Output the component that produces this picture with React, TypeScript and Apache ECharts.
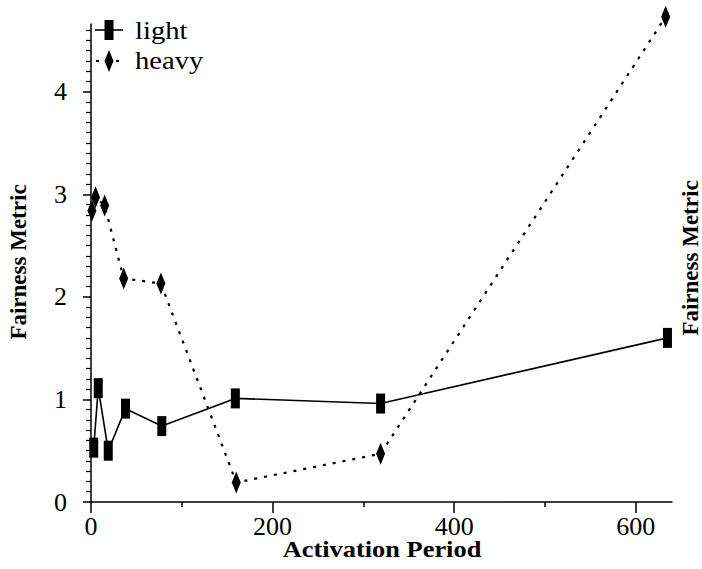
import React, { useEffect, useRef } from "react";
import * as echarts from "echarts";

const lightX = [3, 8, 19, 38, 78, 159, 319, 635];
const lightY = [0.53, 1.11, 0.5, 0.91, 0.74, 1.01, 0.96, 1.6];
const heavyX = [1, 5, 15, 36, 77, 160, 319, 633];
const heavyY = [2.84, 2.97, 2.89, 2.18, 2.13, 0.19, 0.47, 4.73];

const seriesNames = ["light", "heavy"];
const xMajorTicks = [0, 200, 400, 600];
const xMinorTicks = [100, 300, 500];
const yMajorTicks = [0, 1, 2, 3, 4];

const FONT = "'Liberation Serif', 'Times New Roman', serif";

export default function App() {
  const ref = useRef<HTMLDivElement>(null);
  useEffect(() => {
    if (!ref.current) return;
    const chart = echarts.init(ref.current, null, { renderer: "svg" });
    const yMinorTicks: number[] = [];
    for (let i = 1; i <= 46; i++) {
      if (i % 10 !== 0) yMinorTicks.push(i / 10);
    }
    const lightData = lightX.map((x, i) => [x, lightY[i]]);
    const heavyData = heavyX.map((x, i) => [x, heavyY[i]]);
    const axisLine = { show: true, lineStyle: { color: "#000", width: 1.5 } };
    const labelFont = { fontSize: 26, fontFamily: FONT, color: "#000" };
    chart.setOption({
      animation: false,
      backgroundColor: "#fff",
      grid: { left: 91, right: 30, top: 24, bottom: 67 },
      xAxis: [
        {
          type: "value",
          min: 0,
          max: 640,
          position: "bottom",
          axisLine,
          splitLine: { show: false },
          axisTick: { show: true, length: 11, customValues: xMajorTicks, lineStyle: { color: "#000", width: 1.5 } },
          axisLabel: { customValues: xMajorTicks, ...labelFont, margin: 11 },
        },
        {
          type: "value",
          min: 0,
          max: 640,
          position: "bottom",
          axisLine: { show: false },
          splitLine: { show: false },
          axisTick: { show: true, length: 5, customValues: xMinorTicks, lineStyle: { color: "#000", width: 1.5 } },
          axisLabel: { show: false },
        },
      ],
      yAxis: [
        {
          type: "value",
          min: 0,
          max: 4.66,
          position: "left",
          axisLine,
          splitLine: { show: false },
          axisTick: { show: true, length: 8, customValues: yMajorTicks, lineStyle: { color: "#000", width: 1.5 } },
          axisLabel: { customValues: yMajorTicks, ...labelFont, margin: 24 },
        },
        {
          type: "value",
          min: 0,
          max: 4.66,
          position: "left",
          axisLine: { show: false },
          splitLine: { show: false },
          axisTick: { show: true, length: 5, customValues: yMinorTicks, lineStyle: { color: "#000", width: 1.2 } },
          axisLabel: { show: false },
        },
      ],
      series: [
        {
          name: seriesNames[0],
          type: "line",
          data: lightData,
          clip: false,
          symbol: "rect",
          symbolSize: [9, 20],
          itemStyle: { color: "#000" },
          lineStyle: { color: "#000", width: 1.6, type: "solid" },
        },
        {
          name: seriesNames[1],
          type: "line",
          data: heavyData,
          clip: false,
          symbol: "diamond",
          symbolSize: [9, 22],
          itemStyle: { color: "#000" },
          lineStyle: { color: "#000", width: 2.2, type: [3, 7] },
        },
      ],
      graphic: [
        // legend: light
        { type: "line", shape: { x1: 95, y1: 30, x2: 123, y2: 30 }, style: { stroke: "#000", lineWidth: 1.6 } },
        { type: "rect", shape: { x: 104.5, y: 20, width: 9, height: 20 }, style: { fill: "#000" } },
        {
          type: "text",
          x: 135,
          y: 30,
          scaleX: 1.1,
          style: { text: seriesNames[0], font: `26px ${FONT}`, fill: "#000", verticalAlign: "middle" },
        },
        // legend: heavy
        {
          type: "line",
          shape: { x1: 95, y1: 61, x2: 123, y2: 61 },
          style: { stroke: "#000", lineWidth: 2.2, lineDash: [3, 7], lineDashOffset: -1 },
        },
        {
          type: "polygon",
          shape: { points: [[109, 50], [113.5, 61], [109, 72], [104.5, 61]] },
          style: { fill: "#000" },
        },
        {
          type: "text",
          x: 135,
          y: 60,
          scaleX: 1.1,
          style: { text: seriesNames[1], font: `26px ${FONT}`, fill: "#000", verticalAlign: "middle" },
        },
        {
          type: "text",
          x: 382,
          y: 549,
          scaleX: 1.1,
          style: {
            text: "Activation Period",
            font: `bold 24px ${FONT}`,
            fill: "#000",
            align: "center",
            verticalAlign: "middle",
          },
        },
        {
          type: "text",
          x: 18,
          y: 262,
          rotation: Math.PI / 2,
          style: {
            text: "Fairness Metric",
            font: `bold 23px ${FONT}`,
            fill: "#000",
            align: "center",
            verticalAlign: "middle",
          },
        },
        {
          type: "text",
          x: 690,
          y: 258,
          rotation: Math.PI / 2,
          style: {
            text: "Fairness Metric",
            font: `bold 23px ${FONT}`,
            fill: "#000",
            align: "center",
            verticalAlign: "middle",
          },
        },
      ],
    });
    return () => chart.dispose();
  }, []);
  return (
    <div
      ref={ref}
      style={{ position: "fixed", left: 0, top: 0, width: 702, height: 569, background: "#fff" }}
    />
  );
}
